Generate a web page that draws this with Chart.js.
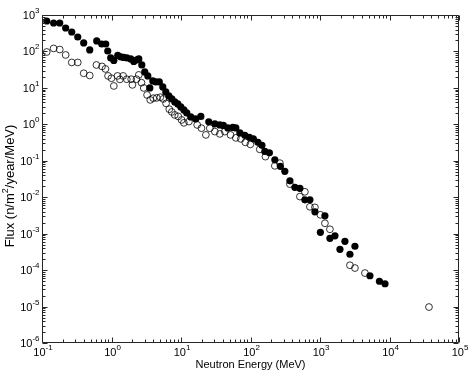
<!DOCTYPE html>
<html>
<head>
<meta charset="utf-8">
<script src="https://cdn.jsdelivr.net/npm/chart.js@4.4.1/dist/chart.umd.min.js"></script>
<style>
  html, body { margin: 0; padding: 0; background: #ffffff; }
  #wrap { width: 471px; height: 376px; position: relative; }
</style>
</head>
<body>
<div id="wrap"><canvas id="c" width="471" height="376"></canvas></div>
<script>
// ---- Data ----
const filledEnergy = [0.117, 0.147, 0.180, 0.219, 0.268, 0.327, 0.398, 0.486, 0.613, 0.724,
  0.826, 0.883, 0.975, 1.08, 1.23, 1.36, 1.50, 1.66, 1.89, 2.09,
  2.31, 2.47, 2.73, 3.01, 3.33, 3.56, 3.93, 4.34, 4.87, 5.47,
  6.04, 6.68, 7.38, 8.14, 8.99, 9.93, 11.0, 12.1, 13.8, 16.3,
  19.3, 25.1, 30.7, 36.2, 40.7, 47.2, 55.7, 61.5, 70.3, 82.9,
  96.3, 110, 128, 146, 161, 187, 224, 269, 312, 369,
  435, 514, 606, 716, 845, 1177, 1013, 1389, 1640, 2284,
  1936, 3182, 2696, 5230, 7165, 8617];
const filledFlux = [685, 604, 604, 440, 342, 249, 171, 110, 194, 160,
  160, 103, 66.3, 56.6, 77.6, 70.6, 68.4, 66.3, 62.2, 53.1,
  58.4, 62.2, 42.6, 27.4, 21.3, 9.97, 15.5, 14.6, 14.6, 10.6,
  7.75, 6.02, 4.98, 4.12, 3.63, 3.01, 2.49, 2.06, 1.60, 1.41,
  1.65, 1.17, 1.03, 0.965, 0.935, 0.799, 0.824, 0.799, 0.582, 0.498,
  0.439, 0.399, 0.320, 0.265, 0.181, 0.165, 0.106, 0.0703, 0.0513, 0.0282,
  0.0187, 0.0175, 0.00849, 0.00849, 0.00398, 0.00309, 0.00109, 0.000747, 0.000875, 0.000618,
  0.000373, 0.000451, 0.000272, 7.0e-5, 4.95e-5, 4.23e-5];

const openEnergy = [0.117, 0.147, 0.180, 0.219, 0.268, 0.327, 0.398, 0.486, 0.607, 0.731,
  0.818, 0.892, 0.998, 1.08, 1.22, 1.32, 1.47, 1.66, 1.92, 2.00,
  2.29, 2.47, 2.70, 2.91, 3.25, 3.61, 3.99, 4.48, 5.04, 5.56,
  6.10, 6.78, 7.38, 8.14, 9.14, 10.2, 11.0, 13.0, 17.1, 19.7,
  22.8, 26.0, 30.7, 36.2, 42.7, 51.6, 61.5, 72.6, 84.3, 99.5,
  136, 164, 224, 265, 369, 514, 606, 716, 845, 1013,
  1177, 1389, 2696, 3182, 4432, 37000];
const openFlux = [96.8, 121, 113, 80.1, 49.9, 49.9, 25.2, 21.9, 42.6, 38.8,
  33.1, 21.3, 18.4, 11.3, 21.3, 17.1, 21.3, 17.3, 17.3, 12.1,
  17.3, 22.7, 13.9, 9.97, 6.41, 4.68, 5.21, 5.31, 5.55, 4.98,
  3.75, 2.60, 2.19, 1.81, 1.65, 1.32, 1.10, 1.19, 0.965, 0.784,
  0.513, 0.784, 0.632, 0.547, 0.632, 0.513, 0.425, 0.399, 0.320, 0.282,
  0.206, 0.130, 0.0726, 0.0861, 0.0229, 0.0104, 0.0141, 0.00546, 0.00528, 0.00329,
  0.00193, 0.00132, 0.000136, 0.000114, 8.3e-5, 9.7e-6];

const xTickPowers = [-1, 0, 1, 2, 3, 4, 5];
const yTickPowers = [-6, -5, -4, -3, -2, -1, 0, 1, 2, 3];
const xTitle = 'Neutron Energy (MeV)';
const yTitleParts = ['Flux (n/m', '2', '/year/MeV)'];

const toPoints = (xs, ys) => xs.map((x, i) => ({ x: x, y: ys[i] }));

const FONT = '"Liberation Sans", Arial, Helvetica, sans-serif';
const AXIS_COLOR = '#262626';

const framePlugin = {
  id: 'frame',
  afterDraw(chart) {
    const ctx = chart.ctx;
    const xs = chart.scales.x, ys = chart.scales.y;
    const a = chart.chartArea;
    const L = Math.round(a.left) + 0.5, R = Math.round(a.right) - 0.5;
    const T = Math.round(a.top) + 0.5, B = Math.round(a.bottom) - 0.5;
    ctx.save();
    ctx.strokeStyle = AXIS_COLOR;
    ctx.lineWidth = 1;
    ctx.beginPath();
    ctx.rect(L, T, R - L, B - T);
    ctx.stroke();

    // ticks (inside the box, all four sides)
    ctx.beginPath();
    const major = 5, minor = 3;
    for (let p = xTickPowers[0]; p <= xTickPowers[xTickPowers.length - 1]; p++) {
      for (let m = 1; m <= 9; m++) {
        if (p === xTickPowers[xTickPowers.length - 1] && m > 1) break;
        const v = m * Math.pow(10, p);
        const px = Math.round(xs.getPixelForValue(v)) + 0.5;
        const len = m === 1 ? major : minor;
        ctx.moveTo(px, B); ctx.lineTo(px, B - len);
        ctx.moveTo(px, T); ctx.lineTo(px, T + len);
      }
    }
    for (let p = yTickPowers[0]; p <= yTickPowers[yTickPowers.length - 1]; p++) {
      for (let m = 1; m <= 9; m++) {
        if (p === yTickPowers[yTickPowers.length - 1] && m > 1) break;
        const v = m * Math.pow(10, p);
        const py = Math.round(ys.getPixelForValue(v)) + 0.5;
        const len = m === 1 ? major : minor;
        ctx.moveTo(L, py); ctx.lineTo(L + len, py);
        ctx.moveTo(R, py); ctx.lineTo(R - len, py);
      }
    }
    ctx.stroke();

    // tick labels with superscript exponents
    ctx.fillStyle = '#000';
    const baseFont = '11px ' + FONT, supFont = '8px ' + FONT;
    ctx.textBaseline = 'alphabetic';
    xTickPowers.forEach(p => {
      const px = xs.getPixelForValue(Math.pow(10, p));
      ctx.font = baseFont; const w1 = ctx.measureText('10').width;
      ctx.font = supFont; const sup = String(p); const w2 = ctx.measureText(sup).width;
      const start = px - (w1 + w2) / 2 + 1;
      ctx.font = baseFont; ctx.textAlign = 'left';
      ctx.fillText('10', start, B + 13);
      ctx.font = supFont;
      ctx.fillText(sup, start + w1, B + 7);
    });
    yTickPowers.forEach(p => {
      const py = ys.getPixelForValue(Math.pow(10, p));
      ctx.font = supFont; const sup = String(p); const w2 = ctx.measureText(sup).width;
      ctx.font = baseFont; const w1 = ctx.measureText('10').width;
      const right = L - 3;
      ctx.textAlign = 'left';
      ctx.fillText('10', right - w2 - w1, py + 4);
      ctx.font = supFont;
      ctx.fillText(sup, right - w2, py - 2);
    });

    // axis titles
    ctx.font = '11px ' + FONT;
    ctx.textAlign = 'center';
    ctx.fillText(xTitle, (L + R) / 2, B + 25);

    ctx.save();
    ctx.translate(14, (T + B) / 2 + 7);
    ctx.rotate(-Math.PI / 2);
    const f1 = '13px ' + FONT, f2 = '9px ' + FONT;
    ctx.font = f1; const a1 = ctx.measureText(yTitleParts[0]).width;
    ctx.font = f2; const a2 = ctx.measureText(yTitleParts[1]).width;
    ctx.font = f1; const a3 = ctx.measureText(yTitleParts[2]).width;
    let sx = -(a1 + a2 + a3) / 2;
    ctx.textAlign = 'left';
    ctx.font = f1; ctx.fillText(yTitleParts[0], sx, 0); sx += a1;
    ctx.font = f2; ctx.fillText(yTitleParts[1], sx, -6); sx += a2;
    ctx.font = f1; ctx.fillText(yTitleParts[2], sx, 0);
    ctx.restore();

    ctx.restore();
  }
};

new Chart(document.getElementById('c'), {
  type: 'scatter',
  data: {
    datasets: [
      {
        label: 'open',
        data: toPoints(openEnergy, openFlux),
        pointStyle: 'circle',
        pointRadius: 3.4,
        pointBorderWidth: 0.8,
        pointBackgroundColor: 'rgba(0,0,0,0)',
        pointBorderColor: '#000',
        showLine: false
      },
      {
        label: 'filled',
        data: toPoints(filledEnergy, filledFlux),
        pointStyle: 'circle',
        pointRadius: 3.6,
        pointBorderWidth: 0,
        pointBackgroundColor: '#000',
        pointBorderColor: '#000',
        showLine: false
      }
    ]
  },
  options: {
    responsive: false,
    animation: false,
    devicePixelRatio: 1,
    layout: { padding: { left: 42, top: 15, right: 12, bottom: 33 } },
    plugins: { legend: { display: false }, tooltip: { enabled: false } },
    scales: {
      x: { type: 'logarithmic', min: 0.1, max: 1e5, display: false },
      y: { type: 'logarithmic', min: 1e-6, max: 1e3, display: false }
    }
  },
  plugins: [framePlugin]
});
</script>
</body>
</html>
